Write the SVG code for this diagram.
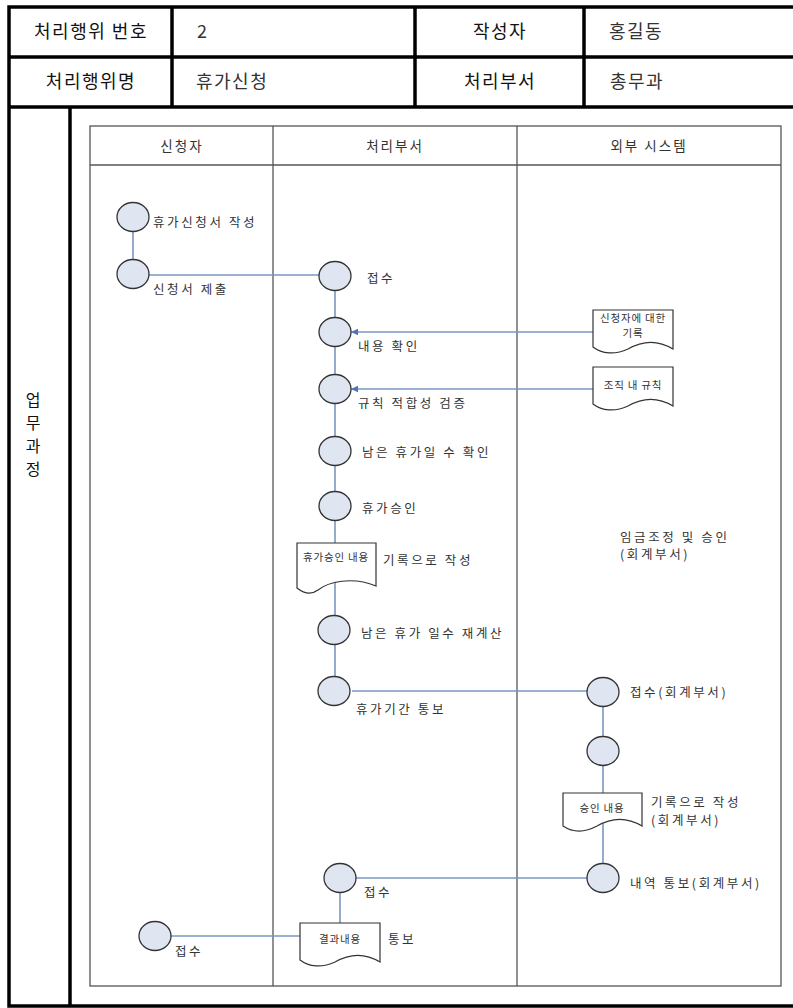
<svg xmlns="http://www.w3.org/2000/svg" width="793" height="1008" viewBox="0 0 793 1008">
<style>
text{font-family:"Noto Sans CJK KR","Noto Sans",sans-serif;}
.hd{font-size:18px;fill:#111;letter-spacing:1.5px;}
.hv{font-size:18px;fill:#333;letter-spacing:1.5px;}
.vt{font-size:16px;fill:#111;}
.ln{font-size:13.5px;fill:#333;letter-spacing:2px;}
.lb{font-size:12.5px;fill:#333;letter-spacing:2.6px;}
.dt{font-size:10.5px;fill:#333;letter-spacing:0.8px;}
.thick{stroke:#000;stroke-width:3.5;fill:none;}
.lane{stroke:#555;stroke-width:1.3;fill:none;}
.c{fill:#dfe6f1;stroke:#333;stroke-width:1.3;}
.doc{fill:#fff;stroke:#333;stroke-width:1.2;}
.con{stroke:#7a97c2;stroke-width:1.6;fill:none;}
</style>
<defs>
<marker id="ah" markerWidth="8" markerHeight="8" refX="7" refY="4" orient="auto" markerUnits="userSpaceOnUse">
<path d="M0,0.8 L7,4 L0,7.2 Z" fill="#4f74b0"/>
</marker>
</defs>
<rect width="793" height="1008" fill="#fff"/>
<g id="frame">
<rect class="thick" x="9" y="7" width="800" height="999"/>
<line class="thick" x1="9" y1="57" x2="800" y2="57"/>
<line class="thick" x1="9" y1="107" x2="800" y2="107"/>
<line class="thick" x1="172" y1="7" x2="172" y2="107"/>
<line class="thick" x1="415" y1="7" x2="415" y2="107"/>
<line class="thick" x1="584" y1="7" x2="584" y2="107"/>
<line class="thick" x1="70" y1="107" x2="70" y2="1006"/>
<text class="hd" x="91" y="38" text-anchor="middle">처리행위 번호</text>
<text class="hv" x="197" y="38">2</text>
<text class="hd" x="500" y="38" text-anchor="middle">작성자</text>
<text class="hv" x="609" y="38">홍길동</text>
<text class="hd" x="91" y="88" text-anchor="middle">처리행위명</text>
<text class="hv" x="196" y="88">휴가신청</text>
<text class="hd" x="500" y="88" text-anchor="middle">처리부서</text>
<text class="hv" x="610" y="88">총무과</text>
<text class="vt" x="33" y="406" text-anchor="middle">업</text>
<text class="vt" x="33" y="429" text-anchor="middle">무</text>
<text class="vt" x="33" y="452" text-anchor="middle">과</text>
<text class="vt" x="33" y="475" text-anchor="middle">정</text>
</g>
<g id="lanes">
<rect class="lane" x="90" y="126" width="691" height="860"/>
<line class="lane" x1="90" y1="165" x2="781" y2="165"/>
<line class="lane" x1="273" y1="126" x2="273" y2="986"/>
<line class="lane" x1="517" y1="126" x2="517" y2="986"/>
<text class="ln" x="182" y="151" text-anchor="middle">신청자</text>
<text class="ln" x="395" y="151" text-anchor="middle">처리부서</text>
<text class="ln" x="649" y="151" text-anchor="middle">외부 시스템</text>
</g>
<g id="connectors">
<line class="con" x1="133" y1="217" x2="133" y2="273"/>
<line class="con" x1="148" y1="275" x2="320" y2="275"/>
<line class="con" x1="335" y1="277" x2="335" y2="690"/>
<line class="con" x1="593" y1="332" x2="351" y2="332" marker-end="url(#ah)"/>
<line class="con" x1="593" y1="389" x2="351" y2="389" marker-end="url(#ah)"/>
<line class="con" x1="352" y1="691" x2="588" y2="691"/>
<line class="con" x1="603" y1="692" x2="603" y2="878"/>
<line class="con" x1="356" y1="878" x2="588" y2="878"/>
<line class="con" x1="340" y1="878" x2="340" y2="923"/>
<line class="con" x1="170" y1="936" x2="300" y2="936"/>
</g>
<g id="n1"><ellipse class="c" cx="133" cy="217" rx="16" ry="14.5"/><text class="lb" x="153" y="227">휴가신청서 작성</text></g>
<g id="n2"><ellipse class="c" cx="133" cy="274" rx="16" ry="14.5"/><text class="lb" x="153" y="294">신청서 제출</text></g>
<g id="n3"><ellipse class="c" cx="335" cy="276" rx="16" ry="14.5"/><text class="lb" x="367" y="283">접수</text></g>
<g id="n4"><ellipse class="c" cx="335" cy="332" rx="16" ry="14.5"/><text class="lb" x="358" y="351">내용 확인</text></g>
<g id="n5"><ellipse class="c" cx="335" cy="389" rx="16" ry="14.5"/><text class="lb" x="358" y="408">규칙 적합성 검증</text></g>
<g id="n6"><ellipse class="c" cx="335" cy="451" rx="16" ry="14.5"/><text class="lb" x="362" y="457">남은 휴가일 수 확인</text></g>
<g id="n7"><ellipse class="c" cx="335" cy="506" rx="16" ry="14.5"/><text class="lb" x="362" y="513">휴가승인</text></g>
<g id="d1"><path class="doc" d="M297,543 H376 V586 C352,576 328,582 318,590 C310,596 302,592 297,588 Z"/><text class="dt" x="336" y="561" text-anchor="middle">휴가승인 내용</text><text class="lb" x="383" y="565">기록으로 작성</text></g>
<g id="n8"><ellipse class="c" cx="334" cy="630" rx="16" ry="14.5"/><text class="lb" x="361" y="638">남은 휴가 일수 재계산</text></g>
<g id="n9"><ellipse class="c" cx="334" cy="691" rx="16" ry="14.5"/><text class="lb" x="356" y="714">휴가기간 통보</text></g>
<g id="e1"><path class="doc" d="M593,310 H673 V349 C655,338 640,342 628,349 C615,355 602,354 593,347 Z"/><text class="dt" x="633" y="322" text-anchor="middle">신청자에 대한</text><text class="dt" x="633" y="337" text-anchor="middle">기록</text></g>
<g id="e2"><path class="doc" d="M593,367 H673 V406 C655,395 640,399 628,406 C615,412 602,411 593,404 Z"/><text class="dt" x="633" y="389" text-anchor="middle">조직 내 규칙</text></g>
<g id="t1"><text class="lb" x="620" y="542">임금조정 및 승인</text><text class="lb" x="620" y="559">(회계부서)</text></g>
<g id="n10"><ellipse class="c" cx="603" cy="692" rx="16" ry="14.5"/><text class="lb" x="630" y="697">접수(회계부서)</text></g>
<g id="n11"><ellipse class="c" cx="603" cy="751" rx="16" ry="14.5"/></g>
<g id="d2"><path class="doc" d="M563,793 H642 V826 C624,815 609,819 597,826 C584,833 572,832 563,826 Z"/><text class="dt" x="602" y="812" text-anchor="middle">승인 내용</text><text class="lb" x="651" y="807">기록으로 작성</text><text class="lb" x="651" y="825">(회계부서)</text></g>
<g id="n12"><ellipse class="c" cx="603" cy="878" rx="16" ry="14.5"/><text class="lb" x="630" y="888">내역 통보(회계부서)</text></g>
<g id="n13"><ellipse class="c" cx="340" cy="878" rx="16" ry="14.5"/><text class="lb" x="364" y="897">접수</text></g>
<g id="d3"><path class="doc" d="M300,923 H380 V962 C362,951 347,955 335,962 C322,968 309,967 300,960 Z"/><text class="dt" x="340" y="943" text-anchor="middle">결과내용</text><text class="lb" x="388" y="944">통보</text></g>
<g id="n14"><ellipse class="c" cx="155" cy="936" rx="16" ry="14.5"/><text class="lb" x="175" y="956">접수</text></g>
</svg>
